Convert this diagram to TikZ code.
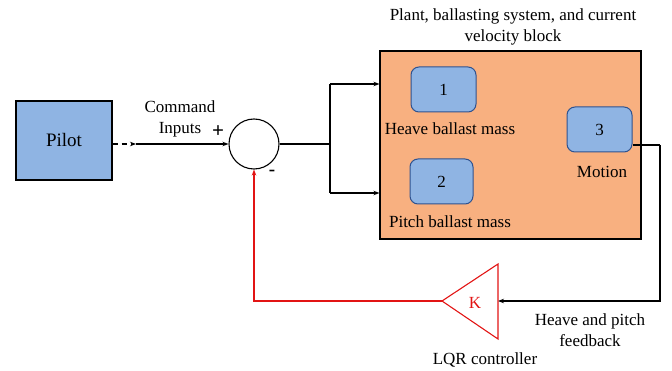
\documentclass[tikz,border=0pt]{standalone}
\usepackage{fontspec}
\setmainfont{Liberation Serif}
\usetikzlibrary{arrows.meta,calc}
\definecolor{pilotblue}{RGB}{143,180,227}
\definecolor{boxblue}{RGB}{143,180,227}
\definecolor{boxedge}{RGB}{47,82,143}
\definecolor{plantorange}{RGB}{248,176,128}
\definecolor{fbred}{RGB}{226,20,20}
\begin{document}
\begin{tikzpicture}[x=1pt,y=-1pt,
  txt/.style={font=\fontsize{17}{20.5}\selectfont, inner sep=0pt, align=center},
  smallbox/.style={draw=boxedge, line width=1pt, fill=boxblue, rounded corners=8pt,
     minimum width=65pt, minimum height=45pt, inner sep=0pt, font=\fontsize{17}{20.5}\selectfont},
  conn/.style={line width=1.1pt, -{Stealth[length=6pt,width=4.5pt]}},
  fb/.style={line width=1.1pt, draw=fbred}
]
\useasboundingbox (0,0) rectangle (672,371);
% Pilot
\node[draw, line width=1.1pt, fill=pilotblue, minimum width=96pt, minimum height=79pt,
      inner sep=0pt, font=\fontsize{19}{22}\selectfont] (pilot) at (64,140.5) {Pilot};
% summing junction
\node[draw, circle, line width=1.1pt, minimum size=50pt, inner sep=0pt] (sum) at (254,144) {};
\coordinate (d) at (136,144);
\draw[line width=1.1pt, dash pattern=on 5pt off 4pt, -{Stealth[length=6pt,width=4.5pt]}] (pilot.east |- d) -- (d);
\draw[conn] (d) -- (sum.west);
\node[txt] (cmd) at (180,119) {Command\\Inputs};
\node[txt, font=\fontsize{21}{22}\selectfont\bfseries] (plus) at (218,132) {+};
\node[txt, font=\fontsize{19}{22}\selectfont\bfseries] (minus) at (272,173) {-};
% plant block
\node[draw, line width=1.1pt, fill=plantorange, minimum width=261pt, minimum height=188pt,
      inner sep=0pt] (plant) at (510.5,145) {};
\node[txt] (title) at (513,27) {Plant, ballasting system, and current\\velocity block};
\node[smallbox] (b1) at (443.5,89.5) {1};
\node[smallbox, minimum width=63pt] (b2) at (441.5,181.5) {2};
\node[smallbox] (b3) at (599.5,129.5) {3};
\node[txt] (l1) at (450,129) {Heave ballast mass};
\node[txt] (l2) at (450,222) {Pitch ballast mass};
\node[txt] (l3) at (602,172) {Motion};
% split
\coordinate (j) at (330,144);
\coordinate (ja) at (330,84);
\coordinate (jb) at (330,193);
\draw[line width=2.8pt] (sum.east) -- (j);
\draw[line width=1.1pt] (ja) -- (jb);
\draw[conn] (ja) -- (plant.west |- ja);
\draw[conn] (jb) -- (plant.west |- jb);
% feedback
\coordinate (Kin) at (498,301);
\coordinate (Ktip) at (442,301);
\coordinate (Ktop) at (498,264);
\coordinate (Kbot) at (498,339);
\coordinate (o1) at (660,145);
\draw[line width=1.1pt] (b3.east |- o1) -- (o1);
\draw[conn] (o1) |- (Kin);
\draw[fb, line join=miter] (Ktop) -- (Ktip) -- (Kbot) -- cycle;
\node[txt, text=fbred] (K) at (475,303) {K};
\draw[fb, -{Stealth[length=6pt,width=4.5pt]}] (Ktip) -| (sum.south);
\node[txt] (fbl) at (590,330) {Heave and pitch\\feedback};
\node[txt] (lqr) at (485,360) {LQR controller};
\end{tikzpicture}
\end{document}
